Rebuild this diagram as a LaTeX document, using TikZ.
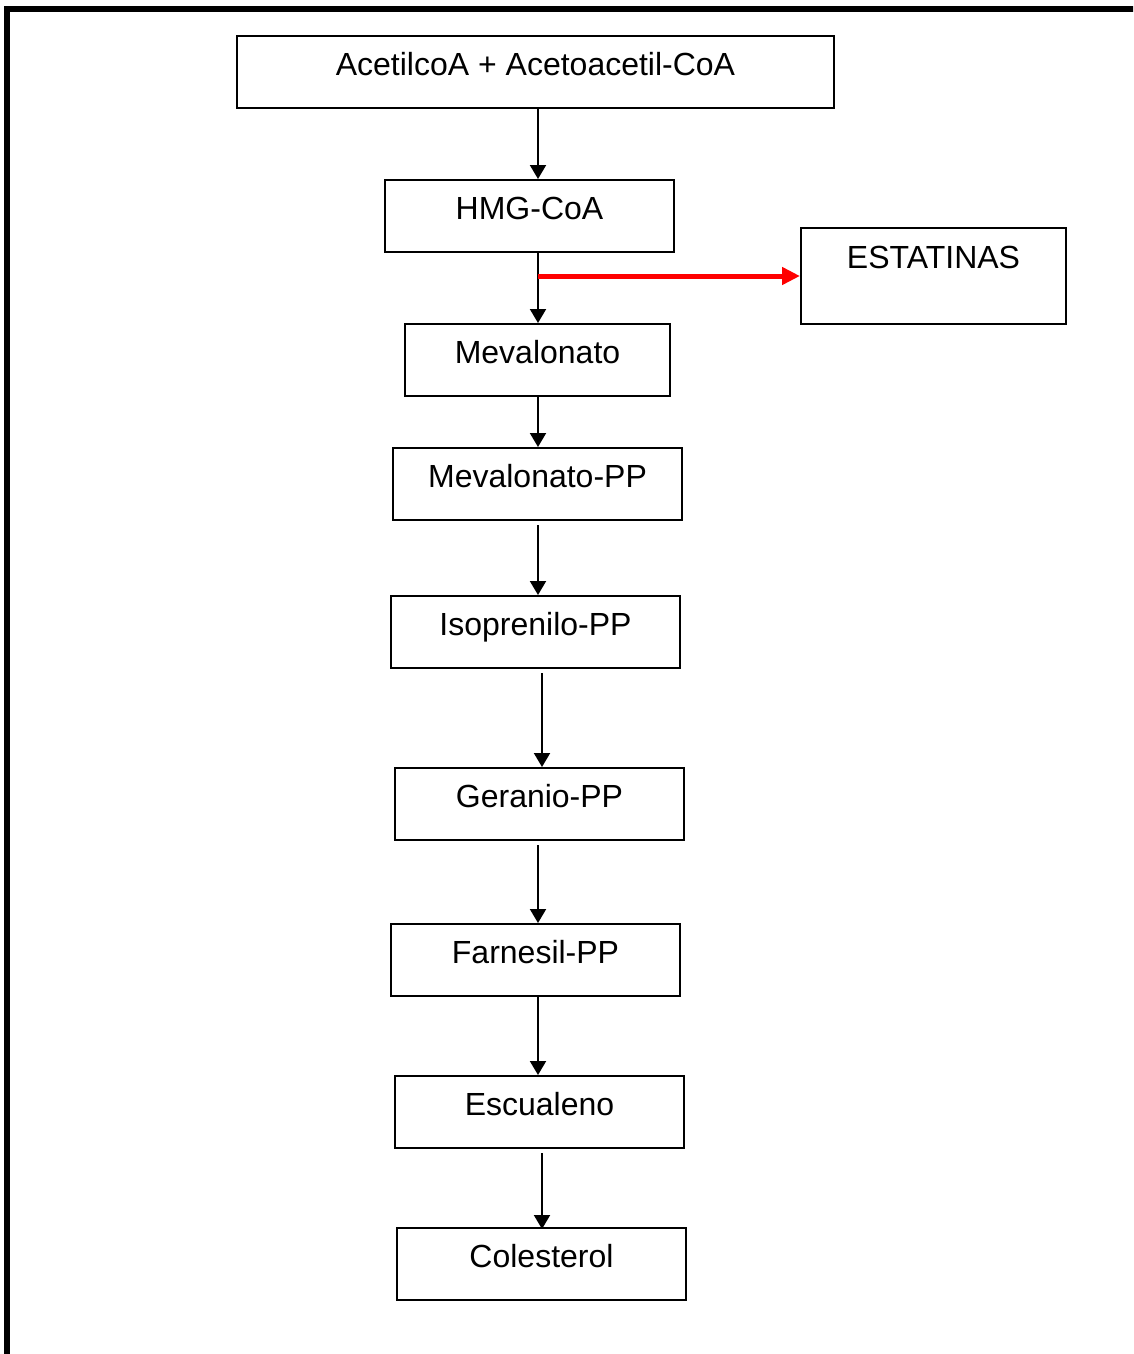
\documentclass[tikz,border=0pt]{standalone}
\usepackage{fontspec}
\setmainfont{Liberation Sans}
\usetikzlibrary{arrows.meta}
\begin{document}
\begin{tikzpicture}[x=1pt,y=-1pt,
  stepbox/.style={draw=black,line width=2pt,rectangle,inner sep=0pt,minimum height=72pt,
    text height=25pt,text depth=18pt,font=\fontsize{32}{38}\selectfont},
  arr/.style={draw=black,line width=2pt,-{Triangle[length=14pt,width=16pt]}},
  redarr/.style={draw=red,line width=5pt,-{Triangle[length=18pt,width=17pt]}}]
\useasboundingbox (0,0) rectangle (1133,1354);
\clip (0,0) rectangle (1133,1354);
\fill[white] (0,0) rectangle (1133,1354);
% frame
\draw[line width=6pt,miter limit=10] (7,1360) -- (7,8.7) -- (1140,8.7);
% nodes
\node[stepbox,minimum width=597pt] (acet) at (535.5,72) {AcetilcoA + Acetoacetil-CoA};
\node[stepbox,minimum width=289pt] (hmg) at (529.5,216) {HMG-CoA};
\node[stepbox,minimum width=265pt,minimum height=96pt,text height=25pt,text depth=40pt] (est) at (933.5,276) {ESTATINAS};
\node[stepbox,minimum width=265pt] (mev) at (537.5,360) {Mevalonato};
\node[stepbox,minimum width=289pt] (mevpp) at (537.5,484) {Mevalonato-PP};
\node[stepbox,minimum width=289pt] (iso) at (535.5,632) {Isoprenilo-PP};
\node[stepbox,minimum width=289pt] (ger) at (539.5,804) {Geranio-PP};
\node[stepbox,minimum width=289pt] (far) at (535.5,960) {Farnesil-PP};
\node[stepbox,minimum width=289pt] (esc) at (539.5,1112) {Escualeno};
\node[stepbox,minimum width=289pt] (col) at (541.5,1264) {Colesterol};
% connectors
\draw[arr] ([xshift=2.5pt]acet.south) -- ([xshift=8.5pt]hmg.north);
\draw[arr] ([xshift=8.5pt]hmg.south) -- ([xshift=0.5pt]mev.north);
\coordinate (branch) at ([xshift=8.5pt]hmg.south |- est.west);
\draw[redarr] (branch) -- (est.west);
\draw[arr] ([xshift=0.5pt]mev.south) -- ([xshift=0.5pt]mevpp.north);
\draw[arr] ([xshift=0.5pt,yshift=-4pt]mevpp.south) -- ([xshift=2.5pt]iso.north);
\draw[arr] ([xshift=6.5pt,yshift=-4pt]iso.south) -- ([xshift=2.5pt]ger.north);
\draw[arr] ([xshift=-1.5pt,yshift=-4pt]ger.south) -- ([xshift=2.5pt]far.north);
\draw[arr] ([xshift=2.5pt]far.south) -- ([xshift=-1.5pt]esc.north);
\draw[arr] ([xshift=2.5pt,yshift=-4pt]esc.south) -- ([xshift=0.5pt,yshift=-2pt]col.north);
\end{tikzpicture}
\end{document}
